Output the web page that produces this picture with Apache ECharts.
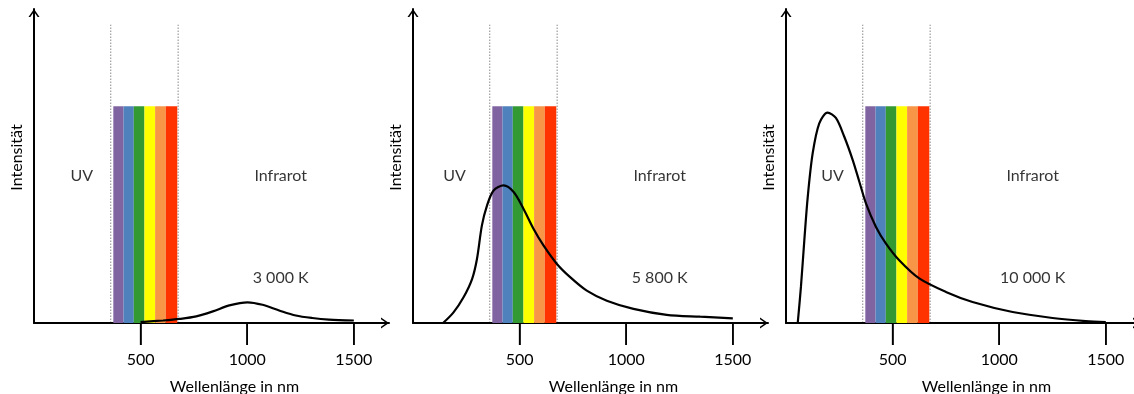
<!DOCTYPE html>
<html>
<head>
<meta charset="utf-8">
<script src="https://cdn.jsdelivr.net/npm/echarts@6/dist/echarts.min.js"></script>
<style>
  html, body { margin: 0; padding: 0; background: #fff; }
  #chart { width: 1134px; height: 394px; }
</style>
</head>
<body>
<div id="chart"></div>
<script>
// Wavelength ticks (nm)
const tickValues = [500, 1000, 1500];

// Temperatures of the three black bodies
const temperatureLabels = ['3 000 K', '5 800 K', '10 000 K'];

// Visible spectrum: band edges in nm and the colour of each band
const spectrumEdges = [372, 420, 468, 518, 568, 618, 672];
const spectrumColors = ['#8064A2', '#4F81BD', '#339933', '#FFFF00', '#F79646', '#FF3300'];
const spectrumTop = 69;

// Dotted limits of the visible range (nm)
const visibleLimits = [360, 676];
const limitTop = 95;

// Radiation curves: [wavelength nm, relative intensity]
const curve3000 = [
  [500, 0.3], [605, 0.8], [683, 1.3], [761, 2.1], [839, 3.7], [916, 5.6],
  [1002, 6.6], [1072, 5.8], [1150, 4.0], [1228, 2.4], [1305, 1.6],
  [1383, 1.1], [1500, 0.8]
];
const curve5800 = [
  [141, 0], [190, 3.4], [237, 8.2], [277, 14], [300, 20.4], [323, 31],
  [347, 37.4], [378, 42.2], [425, 43.8], [472, 41.7], [518, 36.4],
  [565, 30], [612, 24.7], [675, 18.8], [737, 14.6], [815, 10.3],
  [909, 7.1], [1034, 4.5], [1190, 2.6], [1347, 2.0], [1500, 1.5]
];
const curve10000 = [
  [55, 0], [70, 11.5], [86, 26.4], [102, 40.2], [125, 54], [156, 63.6],
  [195, 67], [234, 65.3], [273, 59.4], [313, 51.9], [344, 45], [375, 38.1],
  [422, 30.6], [469, 25.3], [531, 20], [625, 14.2], [750, 9.9], [875, 6.7],
  [1063, 3.5], [1250, 1.6], [1406, 0.6], [1500, 0.3]
];
const curves = [curve3000, curve5800, curve10000];

// Caption anchors (nm / intensity units)
const uvCaptionNm = [224, 195, 218];
const irCaptionNm = 1157;
const regionCaptionY = 47;
const tempCaptionY = 14.5;

const FONT = 'Lato';
const TEXT = '#000';
const gridLefts = [34, 413, 786];
const X_MAX = 1665;
const Y_MAX = 100;
const TICK_LEN = 22;
const arrowPath = 'path://M0,8 L5.5,0 L11,8 L9.2,8 L5.5,2.7 L1.8,8 Z';

const chart = echarts.init(document.getElementById('chart'));

const grids = [], xAxes = [], yAxes = [], series = [];

gridLefts.forEach((left, i) => {
  grids.push({ left: left, top: 9, width: 355, height: 314, outerBoundsMode: 'none' });

  xAxes.push({
    gridIndex: i, type: 'value', min: 0, max: X_MAX, interval: 500,
    name: 'Wellenlänge in nm', nameLocation: 'middle', nameGap: 56,
    nameTextStyle: { fontFamily: FONT, fontSize: 16, color: TEXT, padding: [0, 0, 0, 46] },
    axisLine: {
      show: true,
      symbol: ['none', arrowPath], symbolSize: [11, 8], symbolOffset: [0, -4],
      lineStyle: { color: '#000', width: 2 }
    },
    axisTick: {
      show: true, inside: false, customValues: tickValues, length: TICK_LEN,
      lineStyle: { color: '#000', width: 1.5 }
    },
    axisLabel: {
      show: true, customValues: tickValues, margin: 8,
      padding: [21, 0, 0, 0],
      formatter: v => String(v),
      fontFamily: FONT, fontSize: 16, color: TEXT
    },
    splitLine: { show: false }
  });

  yAxes.push({
    gridIndex: i, type: 'value', min: 0, max: Y_MAX,
    name: 'Intensität', nameLocation: 'middle', nameGap: 9, nameRotate: 90,
    nameTextStyle: { fontFamily: FONT, fontSize: 16, color: TEXT, padding: [0, 0, 0, 17] },
    axisLine: {
      show: true,
      symbol: ['none', arrowPath], symbolSize: [11, 8], symbolOffset: [0, -4],
      lineStyle: { color: '#000', width: 2 }
    },
    axisTick: { show: false },
    axisLabel: { show: false },
    splitLine: { show: false }
  });

  // visible-light bands
  series.push({
    type: 'custom', xAxisIndex: i, yAxisIndex: i, z: 1,
    data: spectrumColors.map((c, k) => [spectrumEdges[k], spectrumEdges[k + 1], spectrumTop]),
    renderItem: (params, api) => {
      const p0 = api.coord([api.value(0), api.value(2)]);
      const p1 = api.coord([api.value(1), 0]);
      return {
        type: 'rect',
        shape: { x: p0[0], y: p0[1], width: p1[0] - p0[0], height: p1[1] - p0[1] },
        style: { fill: spectrumColors[params.dataIndex] }
      };
    }
  });

  // dotted limits of the visible range
  series.push({
    type: 'custom', xAxisIndex: i, yAxisIndex: i, z: 0,
    data: visibleLimits.map(v => [v, limitTop]),
    renderItem: (params, api) => {
      const a = api.coord([api.value(0), 0]);
      const b = api.coord([api.value(0), api.value(1)]);
      return {
        type: 'line',
        shape: { x1: a[0], y1: a[1], x2: b[0], y2: b[1] },
        style: { stroke: '#8a8a8a', lineWidth: 1, lineDash: [1.5, 1.5] }
      };
    }
  });

  // radiation curve
  series.push({
    type: 'line', xAxisIndex: i, yAxisIndex: i, z: 5,
    data: curves[i], showSymbol: false, smooth: 0.3,
    lineStyle: { color: '#000', width: 2.2 }
  });

  // captions
  series.push({
    type: 'scatter', xAxisIndex: i, yAxisIndex: i, z: 6,
    symbolSize: 0,
    data: [
      { name: 'UV', value: [uvCaptionNm[i], regionCaptionY] },
      { name: 'Infrarot', value: [irCaptionNm, regionCaptionY] },
      { name: temperatureLabels[i], value: [irCaptionNm, tempCaptionY] }
    ],
    label: {
      show: true, position: 'inside', formatter: p => p.name,
      fontFamily: FONT, fontSize: 16, color: TEXT
    }
  });
});

chart.setOption({
  animation: false,
  tooltip: { show: false },
  grid: grids, xAxis: xAxes, yAxis: yAxes, series: series
});

// tick marks hanging below each wavelength axis, placed through the axis scale
const tickMarks = [];
gridLefts.forEach((left, i) => {
  tickValues.forEach(v => {
    const p = chart.convertToPixel({ gridIndex: i }, [v, 0]);
    tickMarks.push({
      type: 'line', z: 1000, silent: true,
      shape: { x1: p[0], y1: p[1], x2: p[0], y2: p[1] + TICK_LEN },
      style: { stroke: '#000', lineWidth: 1.5 }
    });
  });
});
chart.setOption({ graphic: tickMarks });
</script>
</body>
</html>
